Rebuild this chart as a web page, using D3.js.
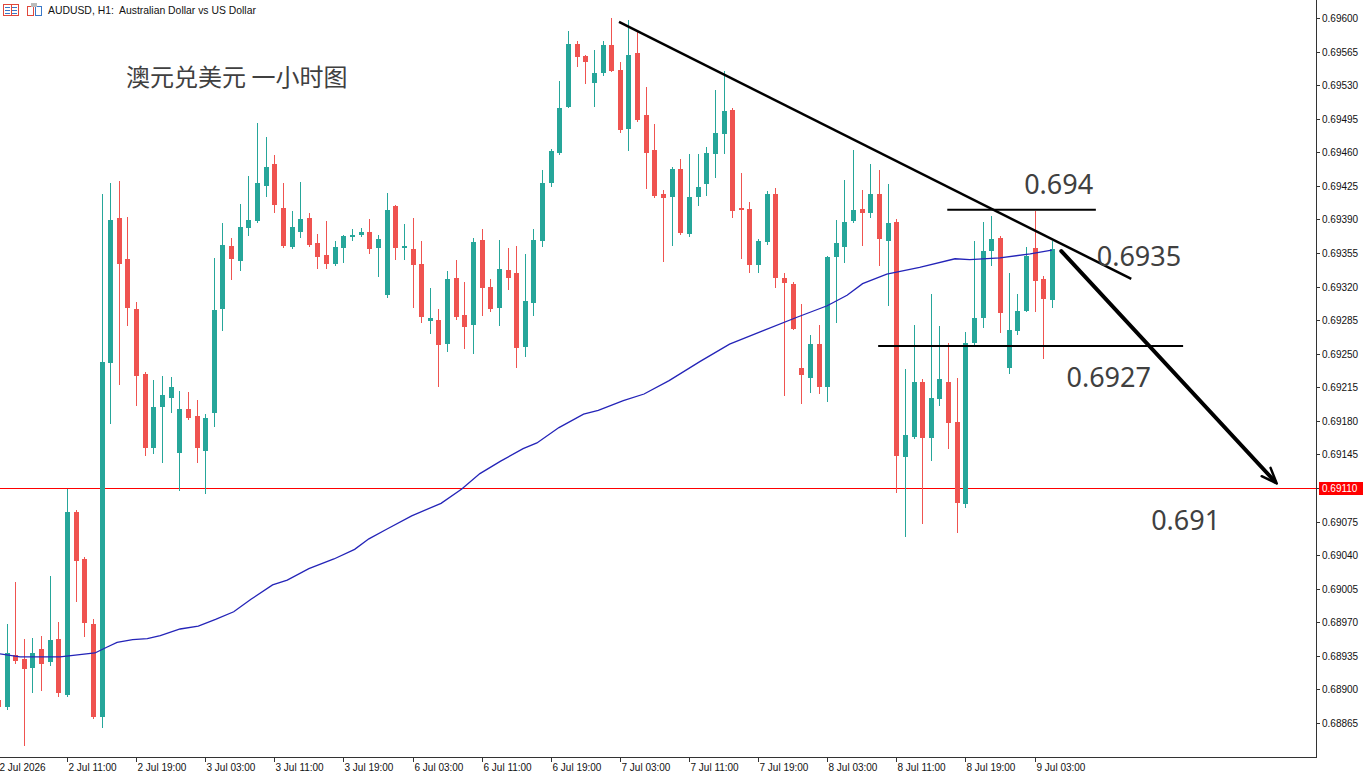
<!DOCTYPE html>
<html><head><meta charset="utf-8">
<script src="https://cdn.jsdelivr.net/npm/d3@7"></script>
<style>body{margin:0;background:#fff;overflow:hidden} svg{display:block}</style>
</head><body>
<svg id="c" width="1366" height="775"></svg>
<script>
// ---- data (H1 bars, bar index -1 .. 121) ----
const firstIndex = -1;
const open = [0.68889,0.68882,0.68936,0.68932,0.68922,0.68942,0.68929,0.68953,0.68894,0.69085,
0.69036,0.68968,0.68871,0.69240,0.69391,0.69349,0.69297,0.69229,0.69152,0.69194,
0.69204,0.69146,0.69192,0.69185,0.69149,0.69188,0.69297,0.69362,0.69347,0.69381,
0.69388,0.69425,0.69448,0.69402,0.69361,0.69377,0.69392,0.69365,0.69353,0.69344,
0.69360,0.69372,0.69374,0.69377,0.69360,0.69311,0.69404,0.69360,0.69359,0.69344,
0.69284,0.69285,0.69260,0.69329,0.69290,0.69280,0.69369,0.69320,0.69298,0.69337,
0.69334,0.69257,0.69303,0.69368,0.69428,0.69459,0.69507,0.69573,0.69560,0.69532,
0.69543,0.69572,0.69546,0.69484,0.69563,0.69499,0.69462,0.69416,0.69413,0.69443,
0.69375,0.69413,0.69427,0.69458,0.69479,0.69504,0.69402,0.69401,0.69343,0.69366,
0.69416,0.69329,0.69323,0.69235,0.69225,0.69260,0.69215,0.69351,0.69361,0.69388,
0.69401,0.69397,0.69417,0.69368,0.69387,0.69142,0.69163,0.69221,0.69162,0.69203,
0.69221,0.69179,0.69093,0.69261,0.69287,0.69357,0.69371,0.69235,0.69274,0.69295,
0.69360,0.69328,0.69306];
const high = [0.68898,0.68968,0.69012,0.68953,0.68954,0.68956,0.69018,0.68970,0.69109,0.69087,
0.69038,0.68973,0.69416,0.69428,0.69430,0.69393,0.69304,0.69231,0.69223,0.69227,
0.69226,0.69211,0.69210,0.69202,0.69187,0.69350,0.69386,0.69371,0.69406,0.69435,
0.69491,0.69476,0.69457,0.69428,0.69399,0.69429,0.69397,0.69375,0.69388,0.69367,
0.69374,0.69380,0.69381,0.69390,0.69374,0.69418,0.69405,0.69385,0.69391,0.69368,
0.69319,0.69297,0.69336,0.69348,0.69325,0.69371,0.69380,0.69328,0.69369,0.69360,
0.69362,0.69354,0.69380,0.69442,0.69463,0.69534,0.69586,0.69576,0.69561,0.69567,
0.69576,0.69600,0.69554,0.69598,0.69585,0.69528,0.69489,0.69421,0.69445,0.69453,
0.69458,0.69458,0.69465,0.69525,0.69545,0.69506,0.69438,0.69408,0.69370,0.69420,
0.69423,0.69334,0.69325,0.69302,0.69270,0.69280,0.69352,0.69389,0.69431,0.69462,
0.69421,0.69448,0.69442,0.69427,0.69390,0.69234,0.69280,0.69224,0.69312,0.69279,
0.69261,0.69225,0.69273,0.69367,0.69387,0.69394,0.69373,0.69334,0.69312,0.69361,
0.69399,0.69331,0.69367];
const low = [0.68875,0.68879,0.68926,0.68841,0.68896,0.68898,0.68924,0.68892,0.68892,0.68991,
0.68955,0.68869,0.68860,0.69177,0.69217,0.69279,0.69196,0.69143,0.69145,0.69136,
0.69188,0.69107,0.69181,0.69136,0.69104,0.69174,0.69274,0.69327,0.69336,0.69373,
0.69386,0.69413,0.69397,0.69360,0.69359,0.69371,0.69361,0.69338,0.69338,0.69341,
0.69345,0.69367,0.69372,0.69354,0.69330,0.69308,0.69348,0.69348,0.69298,0.69282,
0.69271,0.69215,0.69252,0.69285,0.69255,0.69250,0.69289,0.69294,0.69279,0.69316,
0.69235,0.69247,0.69289,0.69361,0.69424,0.69457,0.69506,0.69549,0.69531,0.69507,
0.69540,0.69544,0.69480,0.69461,0.69492,0.69422,0.69412,0.69346,0.69362,0.69374,
0.69372,0.69404,0.69414,0.69433,0.69458,0.69392,0.69349,0.69334,0.69334,0.69363,
0.69319,0.69206,0.69275,0.69198,0.69209,0.69208,0.69200,0.69282,0.69345,0.69386,
0.69362,0.69391,0.69341,0.69300,0.69105,0.69059,0.69161,0.69072,0.69138,0.69196,
0.69151,0.69063,0.69089,0.69259,0.69277,0.69341,0.69272,0.69229,0.69270,0.69293,
0.69293,0.69244,0.69298];
const close = [0.68882,0.68938,0.68930,0.68921,0.68938,0.68926,0.68952,0.68896,0.69085,0.69034,
0.68969,0.68871,0.69241,0.69389,0.69344,0.69298,0.69227,0.69152,0.69194,0.69207,
0.69215,0.69192,0.69183,0.69152,0.69183,0.69296,0.69363,0.69349,0.69382,0.69389,
0.69428,0.69445,0.69405,0.69362,0.69382,0.69390,0.69363,0.69351,0.69344,0.69361,
0.69373,0.69374,0.69377,0.69359,0.69370,0.69400,0.69360,0.69362,0.69343,0.69288,
0.69287,0.69259,0.69328,0.69288,0.69278,0.69366,0.69318,0.69297,0.69338,0.69329,
0.69256,0.69305,0.69369,0.69428,0.69461,0.69506,0.69573,0.69559,0.69554,0.69543,
0.69572,0.69545,0.69483,0.69561,0.69494,0.69459,0.69414,0.69412,0.69443,0.69376,
0.69413,0.69424,0.69459,0.69480,0.69503,0.69399,0.69400,0.69343,0.69367,0.69416,
0.69329,0.69324,0.69276,0.69228,0.69260,0.69215,0.69351,0.69365,0.69387,0.69400,
0.69397,0.69416,0.69370,0.69386,0.69143,0.69165,0.69221,0.69162,0.69204,0.69224,
0.69178,0.69094,0.69261,0.69287,0.69357,0.69370,0.69292,0.69275,0.69295,0.69352,
0.69326,0.69307,0.69359];

// moving average, read at sample bars
const maIndex = [-0.75,1.56,6.19,10.24,11.6,12.8,14.6,16.3,17.8,20.1,22.2,24.2,26.3,28.3,30.8,32.5,35.0,37.9,40.3,41.95,44.0,46.9,50.3,52.7,54.8,57.2,59.8,61.4,63.95,66.8,68.5,71.4,73.8,76.7,80.3,83.7,87.6,91.5,95.0,97.3,99.1,101.9,105.7,109.8,111.5,115.0,118.5,121.0];
const maValue = [0.68937,0.68934,0.68934,0.68938,0.68944,0.68949,0.68952,0.68953,0.68956,0.68963,0.68966,0.68973,0.68981,0.68994,0.69009,0.69014,0.69026,0.69036,0.69046,0.69057,0.69067,0.69081,0.69094,0.69109,0.69125,0.69138,0.69151,0.69157,0.69173,0.69187,0.69191,0.69201,0.69208,0.69222,0.69242,0.69260,0.69274,0.69288,0.69300,0.69311,0.69323,0.69333,0.69340,0.69349,0.69348,0.69350,0.69354,0.69358];

const yTicks = [0.69600,0.69565,0.69530,0.69495,0.69460,0.69425,0.69390,0.69355,0.69320,0.69285,0.69250,0.69215,0.69180,0.69145,0.69110,0.69075,0.69040,0.69005,0.68970,0.68935,0.68900,0.68865];
const xTickIndex = [-1,7,15,23,31,39,47,55,63,71,79,87,95,103,111,119];
const xTickLabels = ["2 Jul 2026","2 Jul 11:00","2 Jul 19:00","3 Jul 03:00","3 Jul 11:00","3 Jul 19:00","6 Jul 03:00","6 Jul 11:00","6 Jul 19:00","7 Jul 03:00","7 Jul 11:00","7 Jul 19:00","8 Jul 03:00","8 Jul 11:00","8 Jul 19:00","9 Jul 03:00"];

const currentPrice = 0.69110;
const levelFrom = [108.9, 100.9];
const levelTo = [126.1, 136.2];
const levelPrice = [0.69400, 0.69258];
const trendIndex = [70.9, 130.2];
const trendPrice = [0.69596, 0.69328];
const arrowIndex = [122.1, 146.8];
const arrowPrice = [0.69357, 0.69117];
const noteText = ["0.694","0.6935","0.6927","0.691"];
const noteIndex = [117.8,126.2,122.7,132.5];
const notePrice = [0.69416,0.69341,0.69215,0.69066];

const headerText = "AUDUSD, H1:  Australian Dollar vs US Dollar";
const titleText = "澳元兑美元 一小时图";

// ---- drawing ----
const plotRight = 1316, plotBottom = 757;
const svg = d3.select("#c");
const x = d3.scaleLinear().domain([0,121]).range([6.5,1051.8]);
const y = d3.scaleLinear().domain([0.68865,0.69600]).range([723,18]);
const UP = "#26a69a", DOWN = "#ef5350";

svg.append("rect").attr("width",1366).attr("height",775).attr("fill","#fff");
svg.append("defs").append("clipPath").attr("id","plot")
  .append("rect").attr("x",0).attr("y",0).attr("width",plotRight).attr("height",plotBottom);

const bars = d3.range(open.length).map(k => ({i:k+firstIndex,o:open[k],h:high[k],l:low[k],c:close[k]}));
const g = svg.append("g").attr("clip-path","url(#plot)");

// current price line
g.append("line").attr("x1",0).attr("x2",plotRight)
  .attr("y1",Math.round(y(currentPrice))+0.5).attr("y2",Math.round(y(currentPrice))+0.5)
  .attr("stroke","#ff0000").attr("stroke-width",1);

// candles
const cg = g.append("g").attr("shape-rendering","crispEdges");
cg.selectAll("line.w").data(bars).join("line").attr("class","w")
  .attr("x1",d=>Math.round(x(d.i))+0.5).attr("x2",d=>Math.round(x(d.i))+0.5)
  .attr("y1",d=>y(d.h)).attr("y2",d=>y(d.l))
  .attr("stroke",d=>d.c>=d.o?UP:DOWN).attr("stroke-width",1);
cg.selectAll("rect.b").data(bars).join("rect").attr("class","b")
  .attr("x",d=>Math.round(x(d.i))-2).attr("width",5)
  .attr("y",d=>y(Math.max(d.o,d.c)))
  .attr("height",d=>Math.max(1.5,Math.abs(y(d.o)-y(d.c))))
  .attr("fill",d=>d.c>=d.o?UP:DOWN);

// moving average
g.append("path").datum(d3.range(maIndex.length))
  .attr("d",d3.line().x(k=>x(maIndex[k])).y(k=>y(maValue[k])))
  .attr("fill","none").attr("stroke","#2424b8").attr("stroke-width",1.3);

// drawn objects
const og = svg.append("g");
levelPrice.forEach((p,k)=>{
  og.append("line").attr("x1",x(levelFrom[k])).attr("x2",x(levelTo[k]))
    .attr("y1",y(p)).attr("y2",y(p)).attr("stroke","#000").attr("stroke-width",2);
});
og.append("line").attr("x1",x(trendIndex[0])).attr("y1",y(trendPrice[0]))
  .attr("x2",x(trendIndex[1])).attr("y2",y(trendPrice[1]))
  .attr("stroke","#000").attr("stroke-width",2.5);
// arrow
const ax1=x(arrowIndex[0]), ay1=y(arrowPrice[0]), ax2=x(arrowIndex[1]), ay2=y(arrowPrice[1]);
og.append("line").attr("x1",ax1).attr("y1",ay1).attr("x2",ax2).attr("y2",ay2)
  .attr("stroke","#000").attr("stroke-width",4).attr("stroke-linecap","round");
const ang = Math.atan2(ay2-ay1, ax2-ax1);
const hl = 14, hw = 0.45;
og.append("path").attr("d",
  `M${ax2+3*Math.cos(ang)},${ay2+3*Math.sin(ang)} L${ax2-hl*Math.cos(ang-hw)},${ay2-hl*Math.sin(ang-hw)} M${ax2+3*Math.cos(ang)},${ay2+3*Math.sin(ang)} L${ax2-hl*Math.cos(ang+hw)},${ay2-hl*Math.sin(ang+hw)}`)
  .attr("stroke","#000").attr("stroke-width",2.5).attr("fill","none").attr("stroke-linecap","round");

og.selectAll("text.note").data(noteText).join("text").attr("class","note")
  .attr("x",(d,k)=>x(noteIndex[k])).attr("y",(d,k)=>y(notePrice[k]))
  .attr("font-family","'Noto Sans', 'Liberation Sans', sans-serif").attr("font-size",27)
  .attr("fill","#404040").text(d=>d);

// axes frame
const ag = svg.append("g").attr("shape-rendering","crispEdges");
ag.append("line").attr("x1",plotRight+0.5).attr("x2",plotRight+0.5).attr("y1",0).attr("y2",plotBottom+0.5)
  .attr("stroke","#333");
ag.append("line").attr("x1",0).attr("x2",plotRight+1).attr("y1",plotBottom+0.5).attr("y2",plotBottom+0.5)
  .attr("stroke","#333");

// y axis ticks
const fmt = d3.format(".5f");
yTicks.forEach(t=>{
  const yy = Math.round(y(t))+0.5;
  ag.append("line").attr("x1",plotRight).attr("x2",plotRight+4).attr("y1",yy).attr("y2",yy).attr("stroke","#333");
  svg.append("text").attr("x",plotRight+6).attr("y",yy+3.5)
    .attr("font-family","'Liberation Sans', Arial, sans-serif").attr("font-size",10)
    .attr("fill","#111").text(fmt(t));
});
// current price label
const cy = Math.round(y(currentPrice))+0.5;
svg.append("rect").attr("x",plotRight+3).attr("y",cy-6.5).attr("width",44).attr("height",13).attr("fill","#ff0000");
svg.append("text").attr("x",plotRight+6).attr("y",cy+3.5)
  .attr("font-family","'Liberation Sans', Arial, sans-serif").attr("font-size",10)
  .attr("fill","#fff").text(fmt(currentPrice));

// x axis ticks
xTickIndex.forEach((t,k)=>{
  const xx = Math.round(x(t))+0.5;
  ag.append("line").attr("x1",xx).attr("x2",xx).attr("y1",plotBottom).attr("y2",plotBottom+5).attr("stroke","#333");
  svg.append("text").attr("x",xx+1).attr("y",771)
    .attr("font-family","'Liberation Sans', Arial, sans-serif").attr("font-size",10)
    .attr("fill","#111").text(xTickLabels[k]);
});

// header
const hg = svg.append("g").attr("shape-rendering","crispEdges");
hg.append("rect").attr("x",3.5).attr("y",4.5).attr("width",15).attr("height",11).attr("fill","#fff").attr("stroke","#e0483c");
hg.append("line").attr("x1",11).attr("x2",11).attr("y1",5).attr("y2",15).attr("stroke","#e0483c");
[7.5,10.5,13.5].forEach(v=>{
  hg.append("line").attr("x1",5).attr("x2",10).attr("y1",v).attr("y2",v).attr("stroke","#3a78c8");
  hg.append("line").attr("x1",12).attr("x2",17).attr("y1",v).attr("y2",v).attr("stroke","#3a78c8");
});
hg.append("path").attr("d","M27.5,6.5 H33.5 V15.5 H27.5 Z").attr("fill","none").attr("stroke","#e0483c");
hg.append("path").attr("d","M35.5,6.5 H41.5 V15.5 H35.5 Z").attr("fill","none").attr("stroke","#3a78c8");
hg.append("rect").attr("x",31).attr("y",3).attr("width",6).attr("height",4).attr("fill","#bbb");
svg.append("text").attr("x",48).attr("y",14).attr("font-family","'Liberation Sans', Arial, sans-serif")
  .attr("font-size",10.4).attr("fill","#111").attr("xml:space","preserve").style("white-space","pre").text(headerText);

svg.append("text").attr("x",126).attr("y",86)
  .attr("font-family","'Noto Sans CJK SC', sans-serif").attr("font-size",24)
  .attr("fill","#404040").text(titleText);
</script>
</body></html>
